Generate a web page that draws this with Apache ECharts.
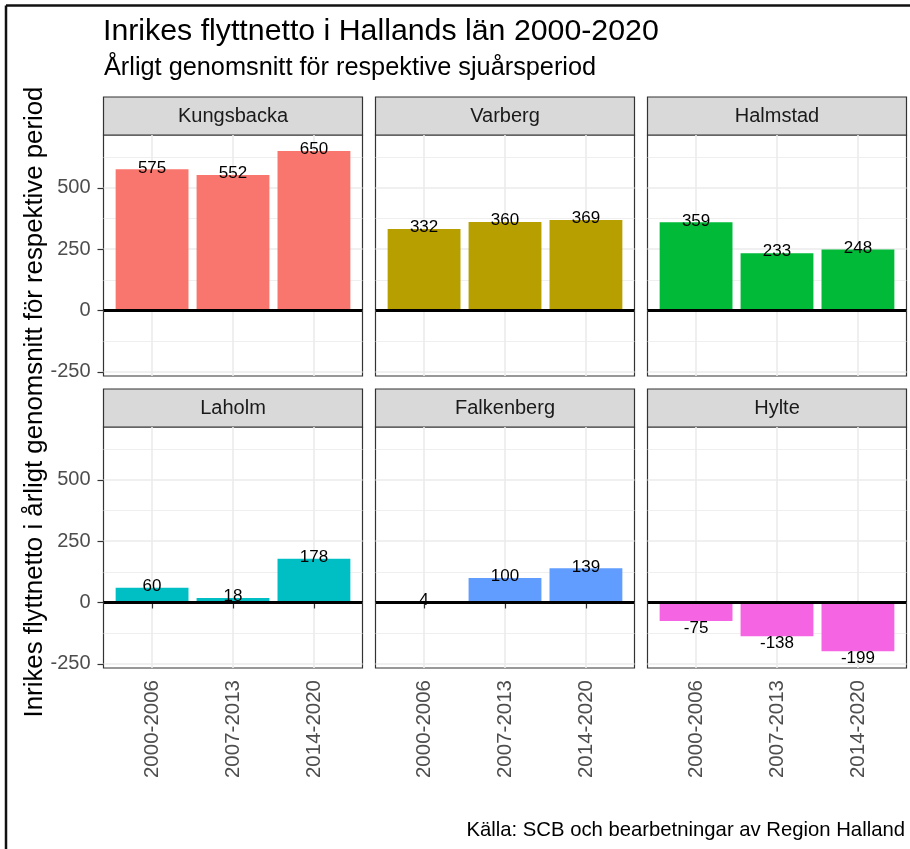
<!DOCTYPE html>
<html><head><meta charset="utf-8">
<script src="https://cdn.jsdelivr.net/npm/echarts@6/dist/echarts.min.js"></script>
<style>html,body{margin:0;padding:0;background:#fff}#c{width:910px;height:849px}</style>
</head><body><div id="c"></div>
<script>
const titleText = 'Inrikes flyttnetto i Hallands län 2000-2020';
const subtitleText = 'Årligt genomsnitt för respektive sjuårsperiod';
const yAxisTitle = 'Inrikes flyttnetto i årligt genomsnitt för respektive period';
const captionText = 'Källa: SCB och bearbetningar av Region Halland';
const periods = ['2000-2006', '2007-2013', '2014-2020'];
const municipalities = ['Kungsbacka', 'Varberg', 'Halmstad', 'Laholm', 'Falkenberg', 'Hylte'];
const kungsbacka = [575, 552, 650];
const varberg = [332, 360, 369];
const halmstad = [359, 233, 248];
const laholm = [60, 18, 178];
const falkenberg = [4, 100, 139];
const hylte = [-75, -138, -199];
const yTicks = [-250, 0, 250, 500];
const yMinorTicks = [-125, 125, 375, 625];
const yMin = -267, yMax = 715;

const seriesValues = [kungsbacka, varberg, halmstad, laholm, falkenberg, hylte];
const colors = ['#F8766D', '#B79F00', '#00BA38', '#00BFC4', '#619CFF', '#F564E3'];
const FONT = '"Liberation Sans", Arial, sans-serif';
const panelLeft = [103.5, 375.5, 647.5], panelTop = [135, 427];
const panelW = 259, panelH = 241, stripH = 38;
const xPos = periods.map((_, j) => j + 1);
const unitPx = panelW / 3.2;

const grids = [], xAxes = [], yAxes = [], series = [], graphics = [];
municipalities.forEach((name, i) => {
  const col = i % 3, row = Math.floor(i / 3);
  const left = panelLeft[col], top = panelTop[row];
  grids.push({ left: left, top: top, width: panelW, height: panelH, show: true,
    borderColor: '#333333', borderWidth: 1.2, backgroundColor: 'transparent', containLabel: false });
  xAxes.push({ type: 'value', gridIndex: i, min: 0.4, max: 3.6,
    axisLine: { show: false },
    axisTick: { show: row === 1, customValues: xPos, length: 6, lineStyle: { color: '#333333', width: 1.2 } },
    axisLabel: { show: row === 1, customValues: xPos, rotate: 90, margin: 12,
      formatter: v => periods[Math.round(v) - 1], fontSize: 20.5, color: '#4D4D4D', fontFamily: FONT },
    splitLine: { show: true, lineStyle: { color: '#EBEBEB', width: 1.6 } } });
  yAxes.push({ type: 'value', gridIndex: i, min: yMin, max: yMax, position: 'left',
    axisLine: { show: false },
    axisTick: { show: col === 0, customValues: yTicks, length: 6, lineStyle: { color: '#333333', width: 1.2 } },
    axisLabel: { show: col === 0, customValues: yTicks, margin: 13, fontSize: 20, color: '#4D4D4D', fontFamily: FONT },
    splitLine: { show: true, lineStyle: { color: '#EBEBEB', width: 1.6 } } });
  yAxes.push({ type: 'value', gridIndex: i, min: yMin, max: yMax, position: 'left',
    axisLine: { show: false },
    axisTick: { show: false, customValues: yMinorTicks },
    axisLabel: { show: false },
    splitLine: { show: true, lineStyle: { color: '#EBEBEB', width: 0.8 } } });
  series.push({ type: 'bar', xAxisIndex: i, yAxisIndex: 2 * i, barWidth: unitPx * 0.9,
    itemStyle: { color: colors[i] },
    data: seriesValues[i].map((v, j) => ({ value: [xPos[j], v],
      label: { position: v >= 0 ? 'top' : 'bottom', distance: v >= 0 ? -7 : -1.5 } })),
    label: { show: true, formatter: p => String(p.value[1]), fontSize: 17, color: '#000', fontFamily: FONT },
    markLine: { silent: true, symbol: 'none', label: { show: false },
      lineStyle: { color: '#000', width: 3.2, type: 'solid' }, data: [{ yAxis: 0 }] },
    animation: false });
  graphics.push({ type: 'rect', shape: { x: left, y: top - stripH, width: panelW, height: stripH },
    style: { fill: '#D9D9D9', stroke: '#333333', lineWidth: 1.2 } });
  graphics.push({ type: 'text', x: left + panelW / 2, y: top - stripH / 2,
    style: { text: name, fontSize: 20, fontFamily: FONT, fill: '#1A1A1A', align: 'center', verticalAlign: 'middle',
      textAlign: 'center', textVerticalAlign: 'middle' } });
});
graphics.push({ type: 'text', x: 35, y: 402, rotation: Math.PI / 2,
  style: { text: yAxisTitle, fontSize: 25.8, fontFamily: FONT, fill: '#000', align: 'center', verticalAlign: 'middle',
    textAlign: 'center', textVerticalAlign: 'middle' } });
graphics.push({ type: 'line', shape: { x1: 6, y1: 5.5, x2: 910, y2: 5.5 }, style: { stroke: '#111', lineWidth: 2.5 } });
graphics.push({ type: 'line', shape: { x1: 6, y1: 5.5, x2: 6, y2: 849 }, style: { stroke: '#111', lineWidth: 2.5 } });

const chart = echarts.init(document.getElementById('c'), null, { renderer: 'canvas' });
chart.setOption({
  animation: false,
  backgroundColor: '#ffffff',
  title: [
    { text: titleText, left: 103, top: 17, padding: 0, textStyle: { fontSize: 30.3, fontWeight: 'normal', color: '#000', fontFamily: FONT } },
    { text: subtitleText, left: 104, top: 56, padding: 0, textStyle: { fontSize: 25.3, fontWeight: 'normal', color: '#000', fontFamily: FONT } },
    { text: captionText, right: 5, top: 820, padding: 0, textStyle: { fontSize: 20.3, fontWeight: 'normal', color: '#000', fontFamily: FONT } }
  ],
  grid: grids, xAxis: xAxes, yAxis: yAxes, series: series, graphic: graphics
});
</script></body></html>
